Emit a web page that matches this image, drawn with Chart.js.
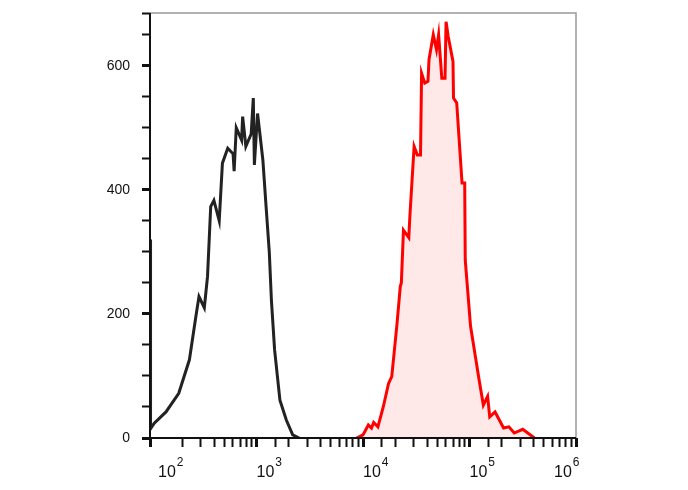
<!DOCTYPE html>
<html>
<head>
<script src="https://cdn.jsdelivr.net/npm/chart.js@4"></script>
<style>body{margin:0;background:#fff}#wrap{width:688px;height:490px}</style>
</head>
<body>
<div id="wrap"><canvas id="c"></canvas></div>
<script>
// log10 positions and counts
const controlLog = [2.0, 2.005, 2.04, 2.15, 2.27, 2.37, 2.43, 2.46, 2.51, 2.54, 2.57, 2.60, 2.65, 2.68, 2.73, 2.78, 2.79, 2.81, 2.86, 2.87, 2.90, 2.95, 2.97, 2.98, 3.01, 3.06, 3.09, 3.12, 3.14, 3.17, 3.22, 3.28, 3.34, 3.40];
const controlCounts = [320, 15, 24, 42, 72, 126, 195, 228, 210, 260, 373, 383, 350, 443, 467, 458, 430, 500, 480, 518, 470, 490, 548, 440, 523, 448, 373, 300, 222, 142, 61, 29, 5, 0];

const stainedLog = [3.94, 4.00, 4.05, 4.08, 4.10, 4.14, 4.19, 4.24, 4.27, 4.32, 4.35, 4.36, 4.38, 4.43, 4.44, 4.48, 4.51, 4.54, 4.55, 4.58, 4.61, 4.62, 4.66, 4.69, 4.71, 4.74, 4.77, 4.78, 4.80, 4.845, 4.85, 4.88, 4.93, 4.955, 4.96, 5.01, 5.09, 5.13, 5.17, 5.19, 5.24, 5.32, 5.37, 5.42, 5.50, 5.61];
const stainedCounts = [0, 5, 21, 16, 25, 18, 50, 88, 99, 185, 244, 250, 335, 323, 357, 470, 456, 456, 588, 572, 575, 610, 650, 626, 650, 580, 580, 671, 647, 607, 548, 540, 411, 411, 287, 180, 94, 53, 67, 34, 42, 16, 18, 8, 14, 0];

const xDecades = [2, 3, 4, 5, 6];
const yTickLabels = [0, 200, 400, 600];

const toPoints = (lg, ys) => lg.map((v, i) => ({x: Math.pow(10, v), y: ys[i]}));

const isDecade = v => Math.abs(Math.log10(v) - Math.round(Math.log10(v))) < 1e-6;

const frame = {
	id: "frame",
	afterDatasetsDraw(chart) {
		const {ctx, chartArea: a} = chart;
		ctx.save();
		ctx.strokeStyle = "#999";
		ctx.lineWidth = 1.5;
		ctx.beginPath();
		ctx.moveTo(a.left, a.top);
		ctx.lineTo(a.right, a.top);
		ctx.lineTo(a.right, a.bottom);
		ctx.stroke();
		ctx.strokeStyle = "#111";
		ctx.lineWidth = 2;
		ctx.beginPath();
		ctx.moveTo(a.left, a.top);
		ctx.lineTo(a.left, a.bottom);
		ctx.lineTo(a.right, a.bottom);
		ctx.stroke();
		ctx.restore();
	},
	// decade labels with raised exponents
	afterDraw(chart) {
		const {ctx} = chart;
		const sx = chart.scales.x;
		const shift = {2: 8, 6: -22};
		ctx.save();
		ctx.fillStyle = "#111";
		ctx.textBaseline = "alphabetic";
		ctx.textAlign = "left";
		xDecades.forEach(d => {
			const x = sx.getPixelForValue(Math.pow(10, d)) + (shift[d] || 0);
			ctx.font = "16px 'Liberation Sans'";
			ctx.fillText("10", x, 477);
			const w = ctx.measureText("10").width;
			ctx.font = "12px 'Liberation Sans'";
			ctx.fillText(String(d), x + w + 1, 466);
		});
		ctx.restore();
	}
};

new Chart(document.getElementById("c"), {
	type: "line",
	data: {
		datasets: [
			{
				data: toPoints(stainedLog, stainedCounts),
				borderColor: "#ff0000",
				borderWidth: 3,
				backgroundColor: "rgba(255,0,0,0.09)",
				fill: "origin",
				pointRadius: 0,
			},
			{
				data: toPoints(controlLog, controlCounts),
				borderColor: "#222",
				borderWidth: 3,
				fill: false,
				pointRadius: 0,
			},
		],
	},
	options: {
		responsive: true,
		maintainAspectRatio: false,
		animation: false,
		layout: {padding: {top: 13, right: 112, left: 0, bottom: 0}},
		plugins: {legend: {display: false}, tooltip: {enabled: false}},
		scales: {
			x: {
				type: "logarithmic",
				min: 100,
				max: 1e6,
				afterFit: s => { s.height = 52; s.paddingLeft = 0; s.paddingRight = 0; },
				border: {display: false},
				grid: {
					drawOnChartArea: false,
					color: "#111",
					tickLength: 9,
					tickWidth: c => (c.tick && isDecade(c.tick.value) ? 3 : 2),
				},
				ticks: {
					autoSkip: false,
					maxRotation: 0,
					callback: () => "",
				},
			},
			y: {
				min: 0,
				max: 685,
				afterFit: s => { s.width = 150; s.paddingTop = 0; s.paddingBottom = 0; },
				border: {display: false},
				grid: {
					drawOnChartArea: false,
					color: "#111",
					tickLength: 8,
					tickWidth: c => (c.tick && c.tick.value % 200 === 0 ? 3 : 2),
				},
				ticks: {
					stepSize: 50,
					padding: 12,
					color: "#111",
					font: {family: "Liberation Sans", size: 14},
					callback: v => (yTickLabels.includes(v) ? String(v) : ""),
				},
			},
		},
	},
	plugins: [frame],
});
</script>
</body>
</html>
